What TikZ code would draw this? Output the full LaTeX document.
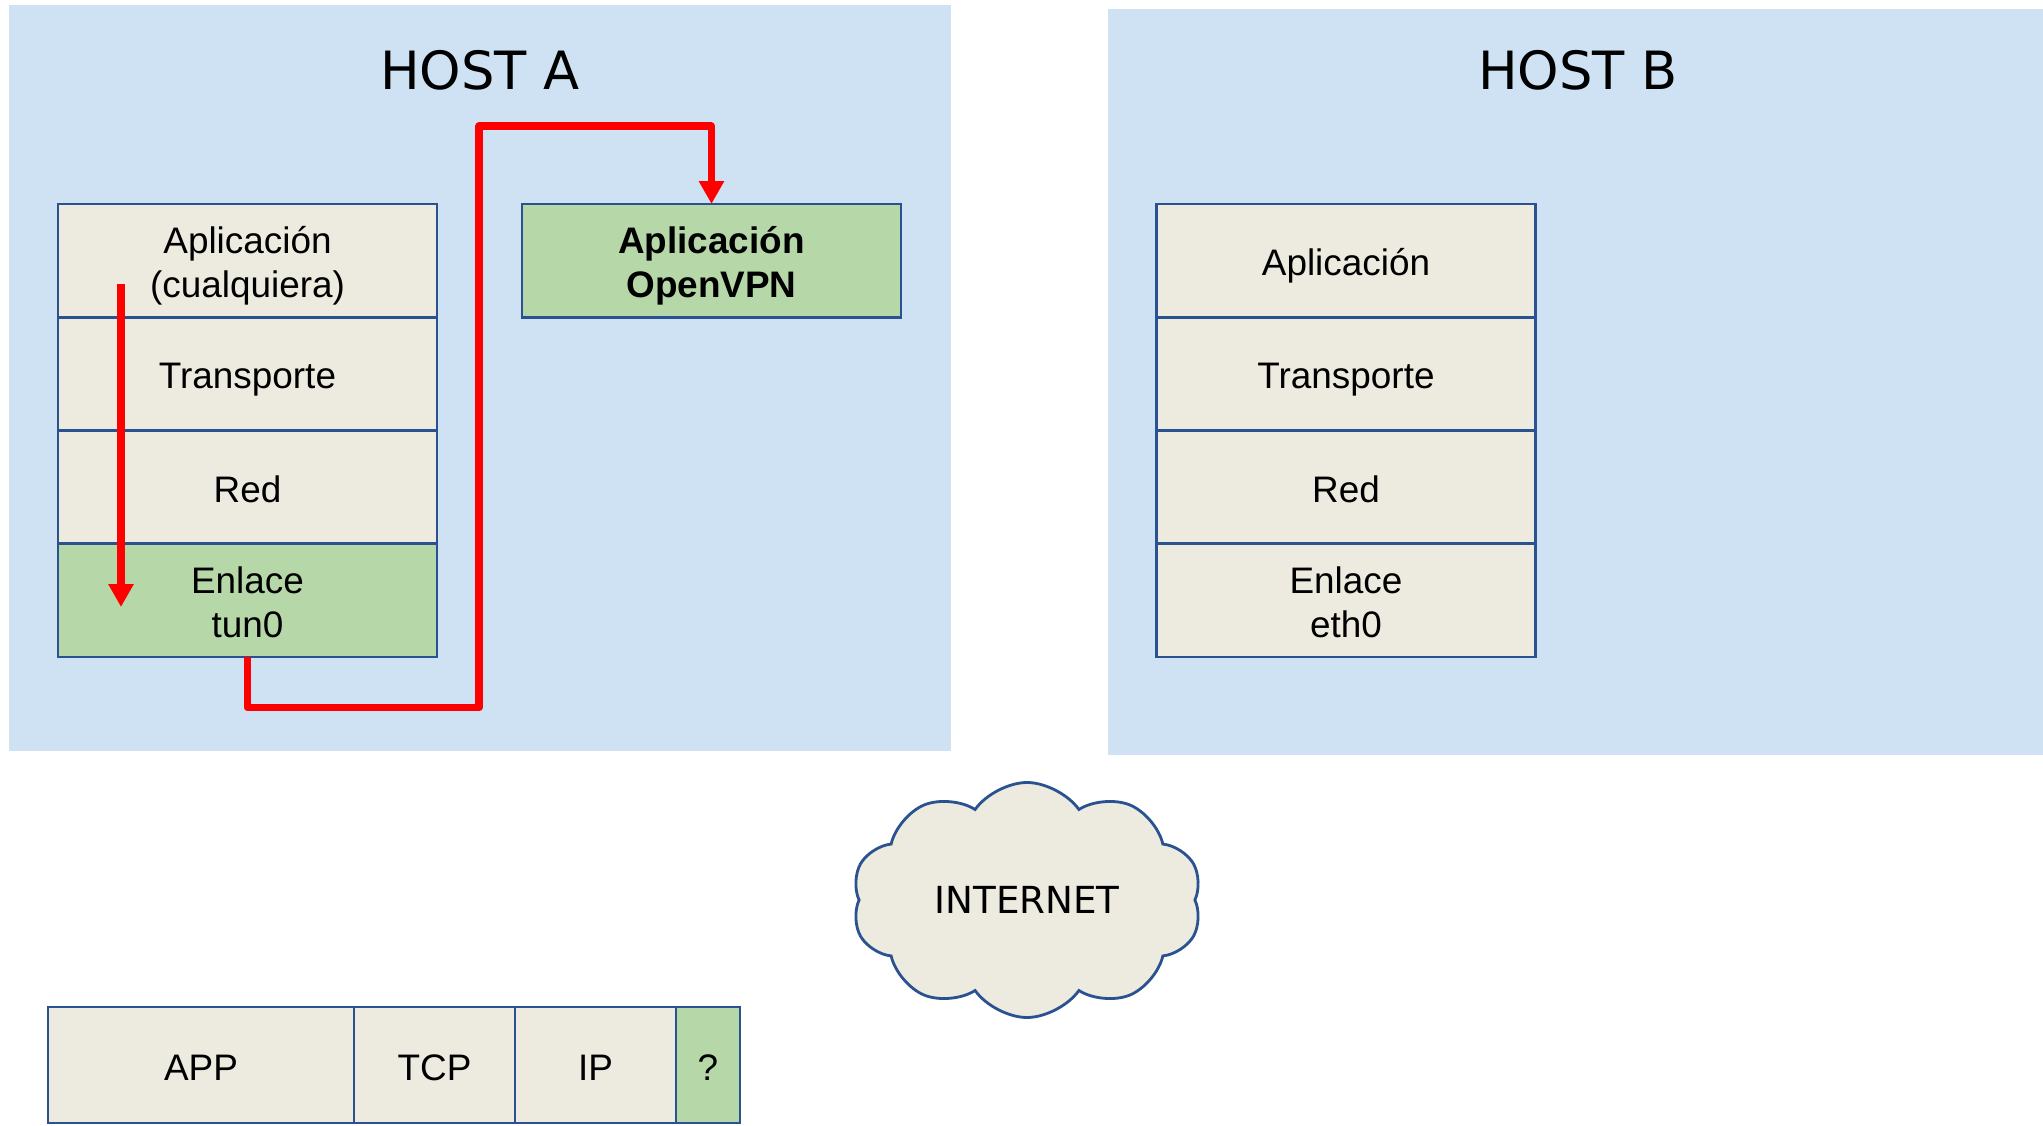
\documentclass[tikz,border=0pt]{standalone}
\usepackage{fontspec}
\setmainfont{Liberation Sans}
\newfontfamily\hostfont{DejaVu Sans}
\usepackage{tikz}
\usetikzlibrary{positioning,arrows.meta,shapes.symbols}

\definecolor{hostblue}{HTML}{CFE2F3}
\definecolor{layerbg}{HTML}{EDEBE0}
\definecolor{tungreen}{HTML}{B6D7A8}
\definecolor{edgeblue}{HTML}{2A5290}
\definecolor{flowred}{HTML}{FF0000}

\tikzset{
    host/.style={fill=hostblue, draw=none, inner sep=0pt, outer sep=0pt},
    hosttitle/.style={font=\hostfont\fontsize{15}{18}\selectfont, anchor=base},
    layer/.style={draw=edgeblue, line width=0.8pt, fill=layerbg,
        minimum width=3.79cm, minimum height=1.1325cm, inner sep=0pt,
        outer sep=0pt, align=center, font=\fontsize{10.5}{12.6}\selectfont,
        text height=8.6pt, text depth=0pt},
    twoline/.style={text height=21.2pt, text depth=0pt},
    tun/.style={layer, fill=tungreen},
    vpn/.style={tun, font=\fontsize{10.5}{12.6}\selectfont\bfseries},
    cell/.style={layer, minimum height=1.16cm},
    flow/.style={draw=flowred, line width=2pt, line join=round,
        -{Triangle[width=6.8pt,length=6.5pt]}},
}

\begin{document}
\begin{tikzpicture}
    \useasboundingbox (0,0) rectangle (20.43,11.25);

    % Hosts
    \node[host, minimum width=9.42cm, minimum height=7.46cm] (hostA) at (4.80,7.47) {};
    \node[host, minimum width=9.40cm, minimum height=7.46cm] (hostB) at (15.78,7.43) {};
    \node[hosttitle] (titleA) at ([yshift=-0.85cm]hostA.north) {HOST A};
    \node[hosttitle] (titleB) at ([yshift=-0.81cm]hostB.north) {HOST B};

    % Host A stack
    \node[layer, twoline] (appA) at (2.475,8.644) {Aplicación\\(cualquiera)};
    \node[layer, below=0pt of appA] (traA) {Transporte};
    \node[layer, below=0pt of traA] (redA) {Red};
    \node[tun, twoline, below=0pt of redA] (enlA) {Enlace\\tun0};
    \node[vpn, twoline, right=0.85cm of appA] (vpnA) {Aplicación\\OpenVPN};

    % Host B stack
    \node[layer] (appB) at (13.46,8.644) {Aplicación};
    \node[layer, below=0pt of appB] (traB) {Transporte};
    \node[layer, below=0pt of traB] (redB) {Red};
    \node[layer, twoline, below=0pt of redB] (enlB) {Enlace\\eth0};

    % Flow through host A
    \coordinate (downTop) at (1.21,8.41);
    \coordinate (downEnd) at (1.21,5.18);
    \coordinate (bendA) at (4.79,9.99);
    \draw[flow] (downTop) -- (downEnd);
    \draw[flow] (enlA.south) -- ++(0,-0.51) -| (bendA) -| (vpnA.north);

    % Internet
    \node[cloud, draw=edgeblue, fill=layerbg, line width=0.8pt, cloud puffs=10,
        cloud puff arc=110, aspect=1.5, minimum width=3.5cm, minimum height=2.35cm,
        inner sep=0pt, font=\hostfont\fontsize{10.6}{12}\selectfont] (net) at (10.27,2.25) {INTERNET};

    % Packet
    \node[cell, minimum width=3.06cm] (app) at (2.01,0.60) {APP};
    \node[cell, minimum width=1.61cm, right=0pt of app] (tcp) {TCP};
    \node[cell, minimum width=1.61cm, right=0pt of tcp] (ip) {IP};
    \node[cell, fill=tungreen, minimum width=0.64cm, right=0pt of ip] (hdr) {?};
\end{tikzpicture}
\end{document}
